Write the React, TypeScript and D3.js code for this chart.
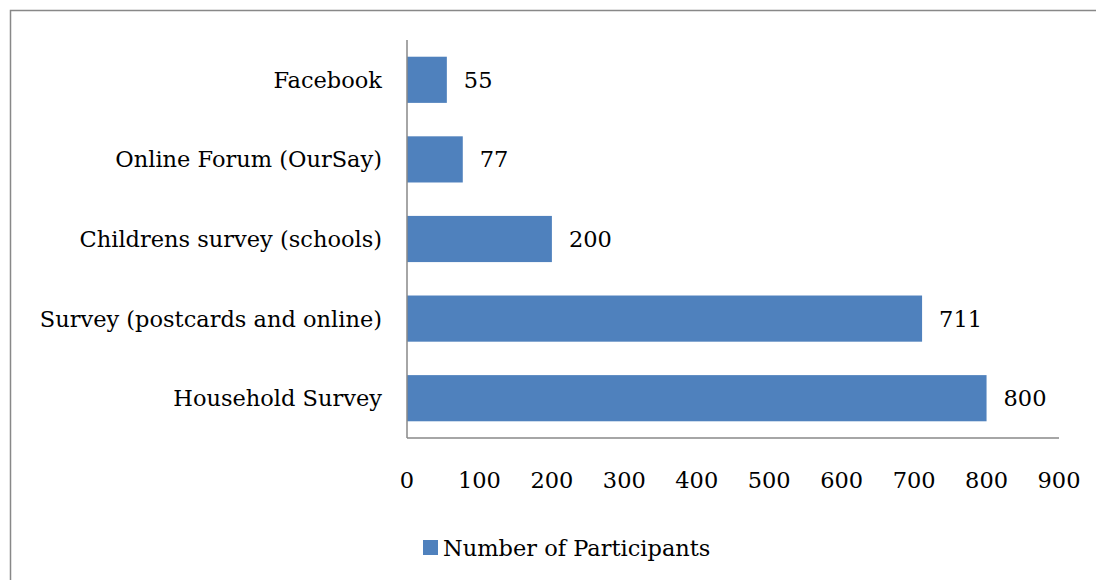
import React from "react";
import * as d3 from "d3";

const categories = [
  "Facebook",
  "Online Forum (OurSay)",
  "Childrens survey (schools)",
  "Survey (postcards and online)",
  "Household Survey",
];
const values = [55, 77, 200, 711, 800];
const xTicks = [0, 100, 200, 300, 400, 500, 600, 700, 800, 900];
const seriesName = "Number of Participants";

const W = 1096;
const H = 580;
const FONT = "'DejaVu Serif', serif";
const BLUE = "#4F81BD";

export default function App() {
  const x = d3.scaleLinear().domain([0, 900]).range([407, 1059]);
  const y = d3.scaleBand<string>().domain(categories).range([40, 438]).paddingInner(0.42).paddingOuter(0.21);
  const fs = 22.5;
  return (
    <svg width={W} height={H} style={{ position: "absolute", left: 0, top: 0 }}>
      <rect x={10.5} y={10.5} width={1100} height={600} fill="#fff" stroke="#888" strokeWidth={1.5} />
      {categories.map((c, i) => (
        <g key={c}>
          <rect x={x(0)} y={y(c)!} width={x(values[i]) - x(0)} height={y.bandwidth()} fill={BLUE} />
          <text x={x(values[i]) + 17} y={y(c)! + y.bandwidth() / 2} dominantBaseline="central" fontFamily={FONT} fontSize={fs} fill="#000">
            {values[i]}
          </text>
          <text x={382} y={y(c)! + y.bandwidth() / 2} dominantBaseline="central" textAnchor="end" fontFamily={FONT} fontSize={fs} fill="#000">
            {c}
          </text>
        </g>
      ))}
      <line x1={407} x2={407} y1={40} y2={438} stroke="#888" strokeWidth={1.5} />
      <line x1={407} x2={1059} y1={438} y2={438} stroke="#888" strokeWidth={1.5} />
      {xTicks.map((t) => (
        <text key={t} x={x(t)} y={480} textAnchor="middle" dominantBaseline="central" fontFamily={FONT} fontSize={fs} fill="#000">
          {t}
        </text>
      ))}
      <rect x={423} y={540} width={15} height={15} fill={BLUE} />
      <text x={443} y={548} dominantBaseline="central" fontFamily={FONT} fontSize={fs} fill="#000">
        {seriesName}
      </text>
    </svg>
  );
}
